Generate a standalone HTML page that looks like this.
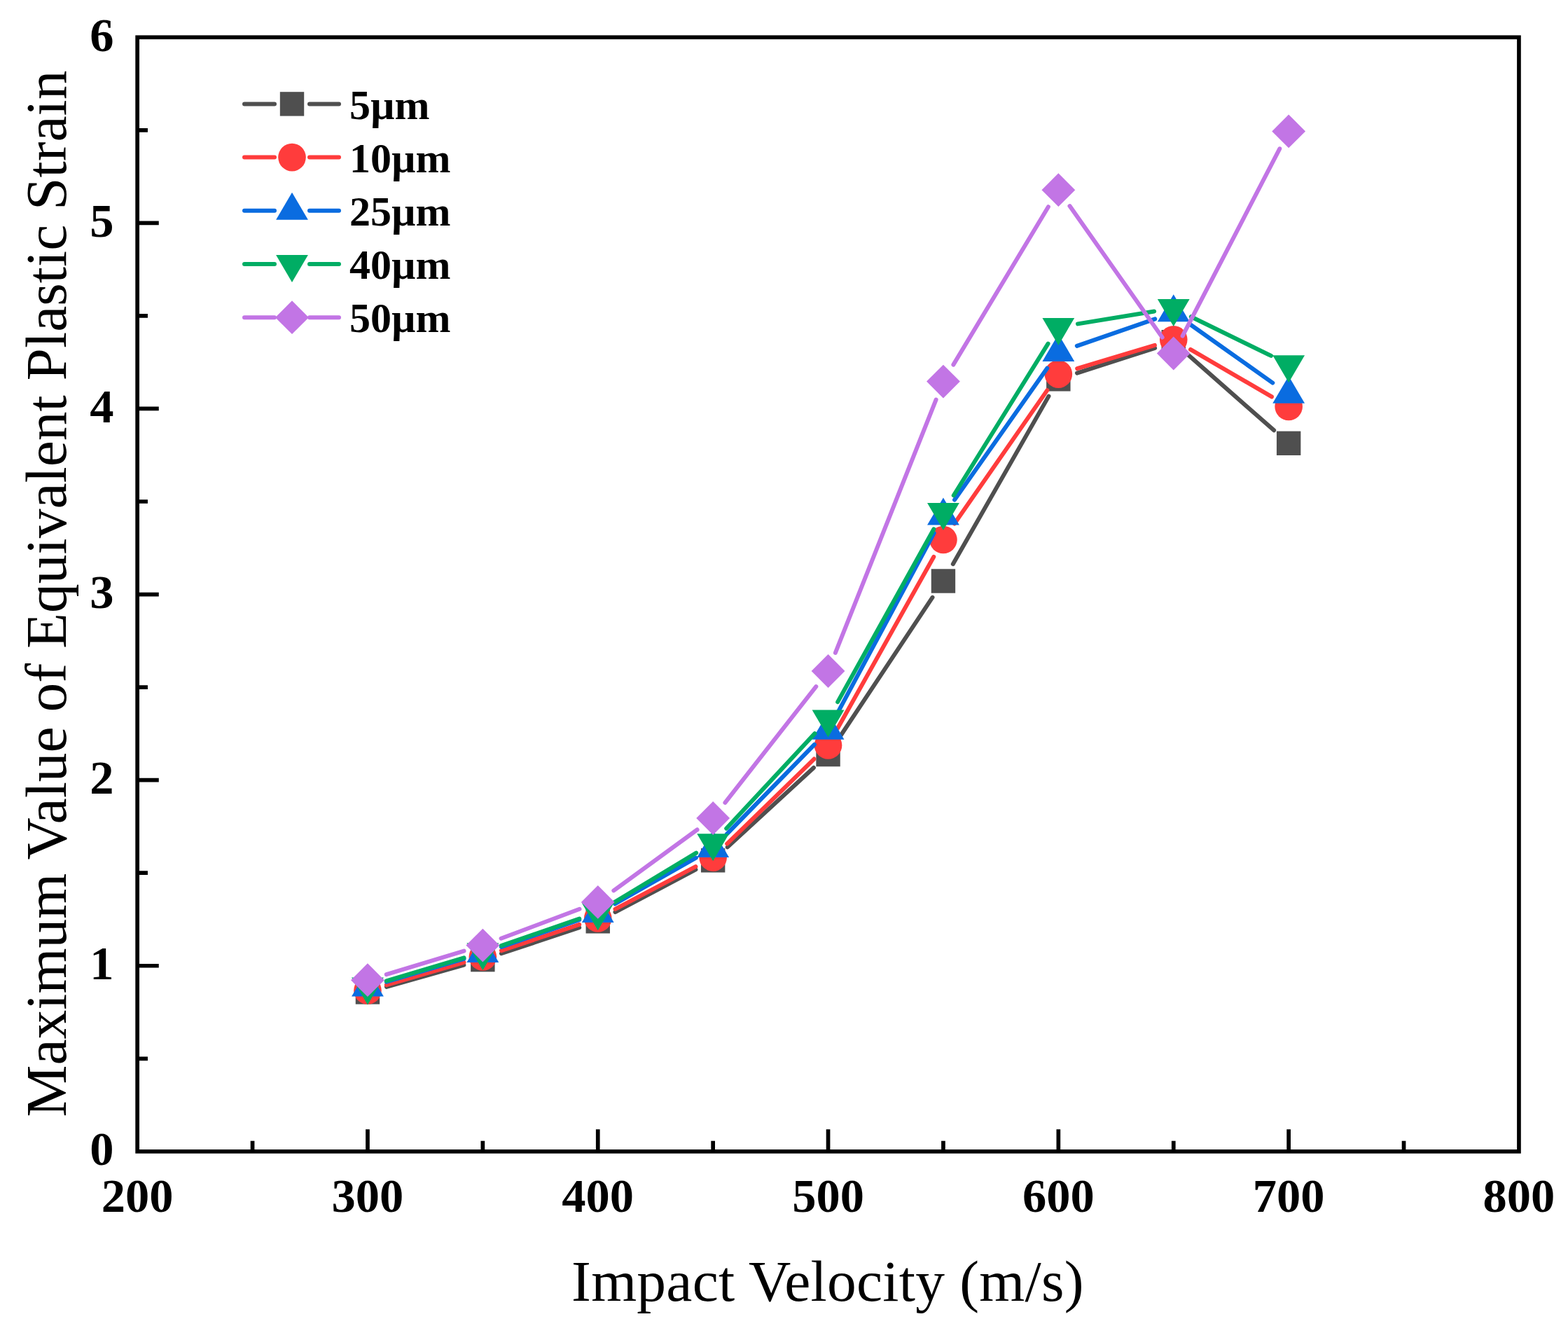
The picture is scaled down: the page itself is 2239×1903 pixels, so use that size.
<!DOCTYPE html>
<html><head><meta charset="utf-8"><style>
html,body{margin:0;padding:0;background:#fff;}
svg{display:block;}
.tl{font-family:"Liberation Serif", serif;font-weight:bold;font-size:68.5px;}
.at{font-family:"Liberation Serif", serif;font-size:81px;}
.lg{font-family:"Liberation Serif", serif;font-weight:bold;font-size:60px;}
</style></head><body>
<svg width="2239" height="1903" viewBox="0 0 2239 1903">
<rect width="2239" height="1903" fill="#fff"/>
<path d="M551.90 1408.81L662.40 1377.69M715.91 1361.25L827.19 1324.15M878.50 1302.20L993.40 1241.40M1038.76 1209.35L1161.94 1096.05M1198.04 1053.77L1331.46 852.83M1360.82 805.18L1497.48 565.62M1537.99 532.69L1649.11 496.81M1696.77 506.69L1819.13 614.31" stroke="#4f4f4f" stroke-width="6.0" stroke-linecap="round" fill="none"/><rect x="507.75" y="1399.20" width="34.40" height="34.40" fill="#4f4f4f"/><rect x="672.15" y="1352.90" width="34.40" height="34.40" fill="#4f4f4f"/><rect x="836.55" y="1298.10" width="34.40" height="34.40" fill="#4f4f4f"/><rect x="1000.95" y="1211.10" width="34.40" height="34.40" fill="#4f4f4f"/><rect x="1165.35" y="1059.90" width="34.40" height="34.40" fill="#4f4f4f"/><rect x="1329.75" y="812.30" width="34.40" height="34.40" fill="#4f4f4f"/><rect x="1494.15" y="524.10" width="34.40" height="34.40" fill="#4f4f4f"/><rect x="1658.55" y="471.00" width="34.40" height="34.40" fill="#4f4f4f"/><rect x="1822.95" y="615.60" width="34.40" height="34.40" fill="#4f4f4f"/><path d="M551.83 1406.15L662.47 1373.85M715.90 1357.10L827.20 1319.80M878.51 1297.83L993.39 1237.17M1038.21 1204.57L1162.49 1083.53M1196.23 1039.57L1333.27 794.93M1362.94 747.51L1495.36 557.09M1538.17 526.06L1648.93 492.84M1699.95 498.89L1815.95 566.41" stroke="#ff3c3c" stroke-width="6.0" stroke-linecap="round" fill="none"/><circle cx="524.95" cy="1414.00" r="19.8" fill="#ff3c3c"/><circle cx="689.35" cy="1366.00" r="19.8" fill="#ff3c3c"/><circle cx="853.75" cy="1310.90" r="19.8" fill="#ff3c3c"/><circle cx="1018.15" cy="1224.10" r="19.8" fill="#ff3c3c"/><circle cx="1182.55" cy="1064.00" r="19.8" fill="#ff3c3c"/><circle cx="1346.95" cy="770.50" r="19.8" fill="#ff3c3c"/><circle cx="1511.35" cy="534.10" r="19.8" fill="#ff3c3c"/><circle cx="1675.75" cy="484.80" r="19.8" fill="#ff3c3c"/><circle cx="1840.15" cy="580.50" r="19.8" fill="#ff3c3c"/><path d="M551.81 1401.58L662.49 1368.92M715.81 1351.84L827.29 1313.26M878.11 1290.29L993.79 1224.71M1037.73 1190.88L1162.97 1062.82M1195.79 1018.13L1333.71 761.07M1363.07 713.51L1495.23 525.79M1537.82 493.79L1649.28 455.41M1698.60 462.49L1817.30 546.61" stroke="#0a6ce0" stroke-width="6.0" stroke-linecap="round" fill="none"/><polygon points="524.95,1383.50 547.85,1422.50 502.05,1422.50" fill="#0a6ce0"/><polygon points="689.35,1335.00 712.25,1374.00 666.45,1374.00" fill="#0a6ce0"/><polygon points="853.75,1278.10 876.65,1317.10 830.85,1317.10" fill="#0a6ce0"/><polygon points="1018.15,1184.90 1041.05,1223.90 995.25,1223.90" fill="#0a6ce0"/><polygon points="1182.55,1016.80 1205.45,1055.80 1159.65,1055.80" fill="#0a6ce0"/><polygon points="1346.95,710.40 1369.85,749.40 1324.05,749.40" fill="#0a6ce0"/><polygon points="1511.35,476.90 1534.25,515.90 1488.45,515.90" fill="#0a6ce0"/><polygon points="1675.75,420.30 1698.65,459.30 1652.85,459.30" fill="#0a6ce0"/><polygon points="1840.15,536.80 1863.05,575.80 1817.25,575.80" fill="#0a6ce0"/><path d="M551.78 1400.39L662.52 1367.31M715.81 1350.13L827.29 1311.47M877.73 1287.84L994.17 1217.66M1037.23 1182.71L1163.47 1047.09M1196.16 1002.13L1333.34 755.47M1361.75 707.23L1496.55 490.67M1538.98 462.36L1648.12 444.44M1700.91 452.19L1814.99 507.91" stroke="#00ad64" stroke-width="6.0" stroke-linecap="round" fill="none"/><polygon points="524.95,1434.40 547.85,1395.40 502.05,1395.40" fill="#00ad64"/><polygon points="689.35,1385.30 712.25,1346.30 666.45,1346.30" fill="#00ad64"/><polygon points="853.75,1328.30 876.65,1289.30 830.85,1289.30" fill="#00ad64"/><polygon points="1018.15,1229.20 1041.05,1190.20 995.25,1190.20" fill="#00ad64"/><polygon points="1182.55,1052.60 1205.45,1013.60 1159.65,1013.60" fill="#00ad64"/><polygon points="1346.95,757.00 1369.85,718.00 1324.05,718.00" fill="#00ad64"/><polygon points="1511.35,492.90 1534.25,453.90 1488.45,453.90" fill="#00ad64"/><polygon points="1675.75,465.90 1698.65,426.90 1652.85,426.90" fill="#00ad64"/><polygon points="1840.15,546.20 1863.05,507.20 1817.25,507.20" fill="#00ad64"/><path d="M551.76 1391.11L662.54 1357.69M715.56 1339.76L827.54 1297.74M876.37 1271.40L995.53 1184.50M1035.41 1145.95L1165.29 980.05M1192.90 931.98L1336.60 570.62M1361.38 520.60L1496.92 295.20M1527.48 294.09L1659.62 481.61M1688.64 479.64L1827.26 212.26" stroke="#c275e5" stroke-width="6.0" stroke-linecap="round" fill="none"/><polygon points="524.95,1375.30 548.85,1399.20 524.95,1423.10 501.05,1399.20" fill="#c275e5"/><polygon points="689.35,1325.70 713.25,1349.60 689.35,1373.50 665.45,1349.60" fill="#c275e5"/><polygon points="853.75,1264.00 877.65,1287.90 853.75,1311.80 829.85,1287.90" fill="#c275e5"/><polygon points="1018.15,1144.10 1042.05,1168.00 1018.15,1191.90 994.25,1168.00" fill="#c275e5"/><polygon points="1182.55,934.10 1206.45,958.00 1182.55,981.90 1158.65,958.00" fill="#c275e5"/><polygon points="1346.95,520.70 1370.85,544.60 1346.95,568.50 1323.05,544.60" fill="#c275e5"/><polygon points="1511.35,247.30 1535.25,271.20 1511.35,295.10 1487.45,271.20" fill="#c275e5"/><polygon points="1675.75,480.60 1699.65,504.50 1675.75,528.40 1651.85,504.50" fill="#c275e5"/><polygon points="1840.15,163.50 1864.05,187.40 1840.15,211.30 1816.25,187.40" fill="#c275e5"/>
<rect x="196.15" y="53.25" width="1972.80" height="1590.60" fill="none" stroke="#000" stroke-width="5.7"/><path d="M196.15 1511.30H210.95M196.15 1378.75H226.75M196.15 1246.20H210.95M196.15 1113.65H226.75M196.15 981.10H210.95M196.15 848.55H226.75M196.15 716.00H210.95M196.15 583.45H226.75M196.15 450.90H210.95M196.15 318.35H226.75M196.15 185.80H210.95M360.55 1643.85V1628.75M524.95 1643.85V1612.35M689.35 1643.85V1628.75M853.75 1643.85V1612.35M1018.15 1643.85V1628.75M1182.55 1643.85V1612.35M1346.95 1643.85V1628.75M1511.35 1643.85V1612.35M1675.75 1643.85V1628.75M1840.15 1643.85V1612.35M2004.55 1643.85V1628.75" stroke="#000" stroke-width="5.7" fill="none"/>
<text x="162.5" y="1663.4" text-anchor="end" class="tl">0</text><text x="162.5" y="1398.3" text-anchor="end" class="tl">1</text><text x="162.5" y="1133.2" text-anchor="end" class="tl">2</text><text x="162.5" y="868.2" text-anchor="end" class="tl">3</text><text x="162.5" y="603.1" text-anchor="end" class="tl">4</text><text x="162.5" y="337.9" text-anchor="end" class="tl">5</text><text x="162.5" y="72.9" text-anchor="end" class="tl">6</text><text x="196.2" y="1730.4" text-anchor="middle" class="tl">200</text><text x="524.9" y="1730.4" text-anchor="middle" class="tl">300</text><text x="853.7" y="1730.4" text-anchor="middle" class="tl">400</text><text x="1182.5" y="1730.4" text-anchor="middle" class="tl">500</text><text x="1511.3" y="1730.4" text-anchor="middle" class="tl">600</text><text x="1840.1" y="1730.4" text-anchor="middle" class="tl">700</text><text x="2168.9" y="1730.4" text-anchor="middle" class="tl">800</text><text x="1181.8" y="1857.4" text-anchor="middle" class="at" style="font-size:83.5px" textLength="731.4" lengthAdjust="spacing">Impact Velocity (m/s)</text><text transform="translate(93.6 847.6) rotate(-90)" x="0" y="0" text-anchor="middle" class="at" style="font-size:83.5px">Maximum Value of Equivalent Plastic Strain</text>
<path d="M349 148.40H392M442 148.40H484" stroke="#4f4f4f" stroke-width="6.0" stroke-linecap="round"/><rect x="399.80" y="131.20" width="34.40" height="34.40" fill="#4f4f4f"/><text x="499" y="169.6" class="lg">5µm</text><path d="M349 224.60H392M442 224.60H484" stroke="#ff3c3c" stroke-width="6.0" stroke-linecap="round"/><circle cx="417.00" cy="224.60" r="19.8" fill="#ff3c3c"/><text x="499" y="245.8" class="lg">10µm</text><path d="M349 300.80H392M442 300.80H484" stroke="#0a6ce0" stroke-width="6.0" stroke-linecap="round"/><polygon points="417.00,274.80 439.90,313.80 394.10,313.80" fill="#0a6ce0"/><text x="499" y="322.0" class="lg">25µm</text><path d="M349 377.00H392M442 377.00H484" stroke="#00ad64" stroke-width="6.0" stroke-linecap="round"/><polygon points="417.00,403.00 439.90,364.00 394.10,364.00" fill="#00ad64"/><text x="499" y="398.2" class="lg">40µm</text><path d="M349 453.20H392M442 453.20H484" stroke="#c275e5" stroke-width="6.0" stroke-linecap="round"/><polygon points="417.00,429.30 440.90,453.20 417.00,477.10 393.10,453.20" fill="#c275e5"/><text x="499" y="474.4" class="lg">50µm</text>
</svg>
</body></html>
